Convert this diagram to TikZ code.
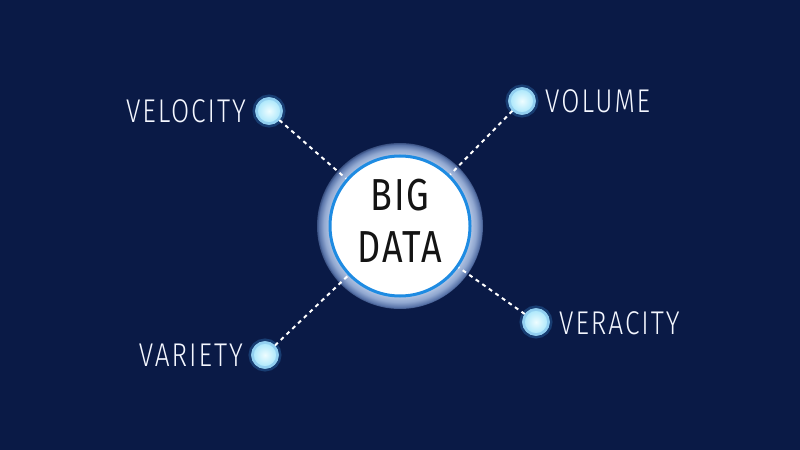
\documentclass[tikz,border=0pt]{standalone}
\usepackage{fontspec}
\newfontfamily\lblfont[FakeStretch=0.8,LetterSpace=6]{Fira Sans Light}
\newfontfamily\ttlfont[FakeStretch=0.8,LetterSpace=4]{Fira Sans}
\definecolor{bg}{HTML}{0A1A46}
\definecolor{haloin}{HTML}{C2D1EA}
\definecolor{halomid}{HTML}{90A7D0}
\definecolor{haloout}{HTML}{5873A8}
\definecolor{ringblue}{HTML}{1E8BE2}
\definecolor{dotin}{HTML}{EEFDFF}
\definecolor{dotout}{HTML}{A8E6FB}
\definecolor{dotring}{HTML}{92CFF0}
\definecolor{glow}{HTML}{3A8FD8}
\definecolor{lbl}{HTML}{F4F7FF}
\pgfdeclareradialshading{haloshade}{\pgfpoint{0bp}{0bp}}{%
  color(0bp)=(haloin); color(20.5bp)=(haloin); color(23bp)=(halomid); color(24.5bp)=(haloout); color(25bp)=(haloout!60!bg); color(50bp)=(bg)}
\tikzset{
  halo/.style={circle, minimum size=166bp, inner sep=0pt, shading=haloshade},
  core/.style={circle, minimum size=140bp, inner sep=0pt, fill=white, draw=ringblue, line width=3bp},
  dot/.style={circle, minimum size=25bp, inner sep=0pt, inner color=dotin, outer color=dotout,
    draw=dotring, line width=2.5bp, preaction={draw=glow, line width=8bp, opacity=0.3}},
  dotcover/.style={circle, minimum size=25bp, inner sep=0pt, inner color=dotin, outer color=dotout,
    draw=dotring, line width=2.5bp},
  lbl/.style={text=lbl, font=\lblfont\fontsize{33}{33}\selectfont, inner sep=0pt},
  link/.style={draw=white, line width=2bp, dash pattern=on 4bp off 4bp},
  title/.style={text=black!92, font=\ttlfont\fontsize{45}{52}\selectfont, align=center, inner sep=0pt}
}
\begin{document}
\begin{tikzpicture}[x=1bp,y=-1bp]
\fill[bg] (0,0) rectangle (800,450);
\useasboundingbox (0,0) rectangle (800,450);
\node[halo] (h) at (400,226) {};
\coordinate (c0) at (400,226);
\node[dot] (vel) at (269,111) {};
\node[dot] (vol) at (522,101) {};
\node[dot] (ver) at (536,322) {};
\node[dot] (var) at (265,355) {};
\draw[link] (vel) -- (c0);
\draw[link] (vol) -- (c0);
\draw[link] (ver) -- (c0);
\draw[link] (var) -- (c0);
\node[core] (c) at (400,226) {};
\node[title] (t) at (400,221) {BIG\\DATA};
\node[dotcover] at (vel) {};
\node[dotcover] at (vol) {};
\node[dotcover] at (ver) {};
\node[dotcover] at (var) {};
\node[lbl, anchor=east] (lvel) at (246,111) {VELOCITY};
\node[lbl, anchor=west] (lvol) at (545,101) {VOLUME};
\node[lbl, anchor=west] (lver) at (559,323) {VERACITY};
\node[lbl, anchor=east] (lvar) at (243,355) {VARIETY};
\end{tikzpicture}
\end{document}
